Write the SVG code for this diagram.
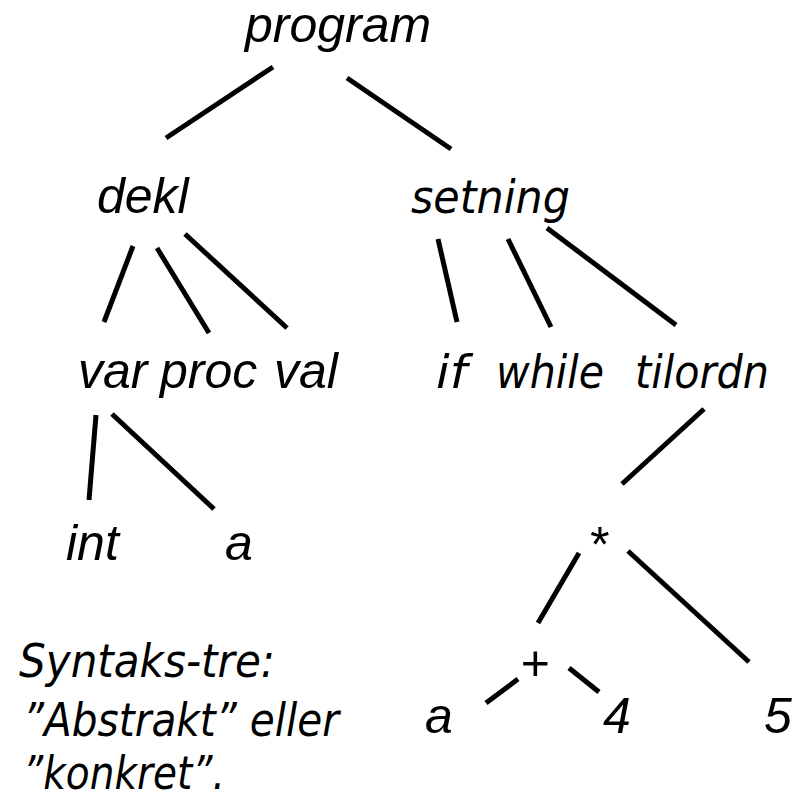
<svg xmlns="http://www.w3.org/2000/svg" width="801" height="798" viewBox="0 0 801 798">
  <style>
    .a { font-family: "Liberation Sans", Arial, sans-serif; font-style: italic; font-size: 50px; fill: #000; }
    .t { font-family: "DejaVu Sans", Verdana, sans-serif; font-style: oblique; font-size: 47px; fill: #000; }
    .edge { stroke: #000; stroke-width: 5; stroke-linecap: butt; fill: none; }
  </style>
  <rect width="801" height="798" fill="#fff"/>

  <g id="connectors">
    <line class="edge" x1="273" y1="67" x2="166" y2="138"/>
    <line class="edge" x1="347" y1="78" x2="451" y2="149"/>
    <line class="edge" x1="133" y1="246" x2="104" y2="322"/>
    <line class="edge" x1="157" y1="248" x2="209" y2="333"/>
    <line class="edge" x1="185" y1="234" x2="287" y2="328"/>
    <line class="edge" x1="438" y1="239" x2="457" y2="322"/>
    <line class="edge" x1="508" y1="239" x2="551" y2="327"/>
    <line class="edge" x1="547" y1="228" x2="676" y2="325"/>
    <line class="edge" x1="96" y1="415" x2="89" y2="500"/>
    <line class="edge" x1="112" y1="414" x2="214" y2="509"/>
    <line class="edge" x1="704" y1="409" x2="622" y2="484"/>
    <line class="edge" x1="579" y1="553" x2="538" y2="623"/>
    <line class="edge" x1="628" y1="551" x2="749" y2="662"/>
    <line class="edge" x1="518" y1="679" x2="486" y2="703"/>
    <line class="edge" x1="569" y1="668" x2="599" y2="692"/>
  </g>

  <g id="program"><text class="a" x="245" y="42">program</text></g>
  <g id="dekl"><text class="a" x="97" y="213">dekl</text></g>
  <g id="setning"><text class="t" x="411" y="213" textLength="159" lengthAdjust="spacingAndGlyphs">setning</text></g>
  <g id="var"><text class="a" x="78" y="388">var</text></g>
  <g id="proc"><text class="a" x="160" y="388">proc</text></g>
  <g id="val"><text class="a" x="274" y="388">val</text></g>
  <g id="if"><text class="t" x="436" y="388" textLength="31" lengthAdjust="spacingAndGlyphs">if</text></g>
  <g id="while"><text class="t" x="496" y="388" textLength="108" lengthAdjust="spacingAndGlyphs">while</text></g>
  <g id="tilordn"><text class="t" x="635" y="388" textLength="134" lengthAdjust="spacingAndGlyphs">tilordn</text></g>
  <g id="int"><text class="a" x="66" y="560">int</text></g>
  <g id="a-decl"><text class="a" x="225" y="560">a</text></g>
  <g id="mul"><text class="a" x="588" y="562">*</text></g>
  <g id="plus"><text class="a" x="520" y="680">+</text></g>
  <g id="a-expr"><text class="a" x="425" y="733">a</text></g>
  <g id="four"><text class="a" x="603" y="733">4</text></g>
  <g id="five"><text class="a" x="764" y="733">5</text></g>

  <g id="caption">
    <text class="t" x="19" y="677" textLength="256" lengthAdjust="spacingAndGlyphs">Syntaks-tre:</text>
    <text class="t" x="23" y="736" textLength="316" lengthAdjust="spacingAndGlyphs">”Abstrakt” eller</text>
    <text class="t" x="23" y="789" textLength="202" lengthAdjust="spacingAndGlyphs">”konkret”.</text>
  </g>
</svg>
